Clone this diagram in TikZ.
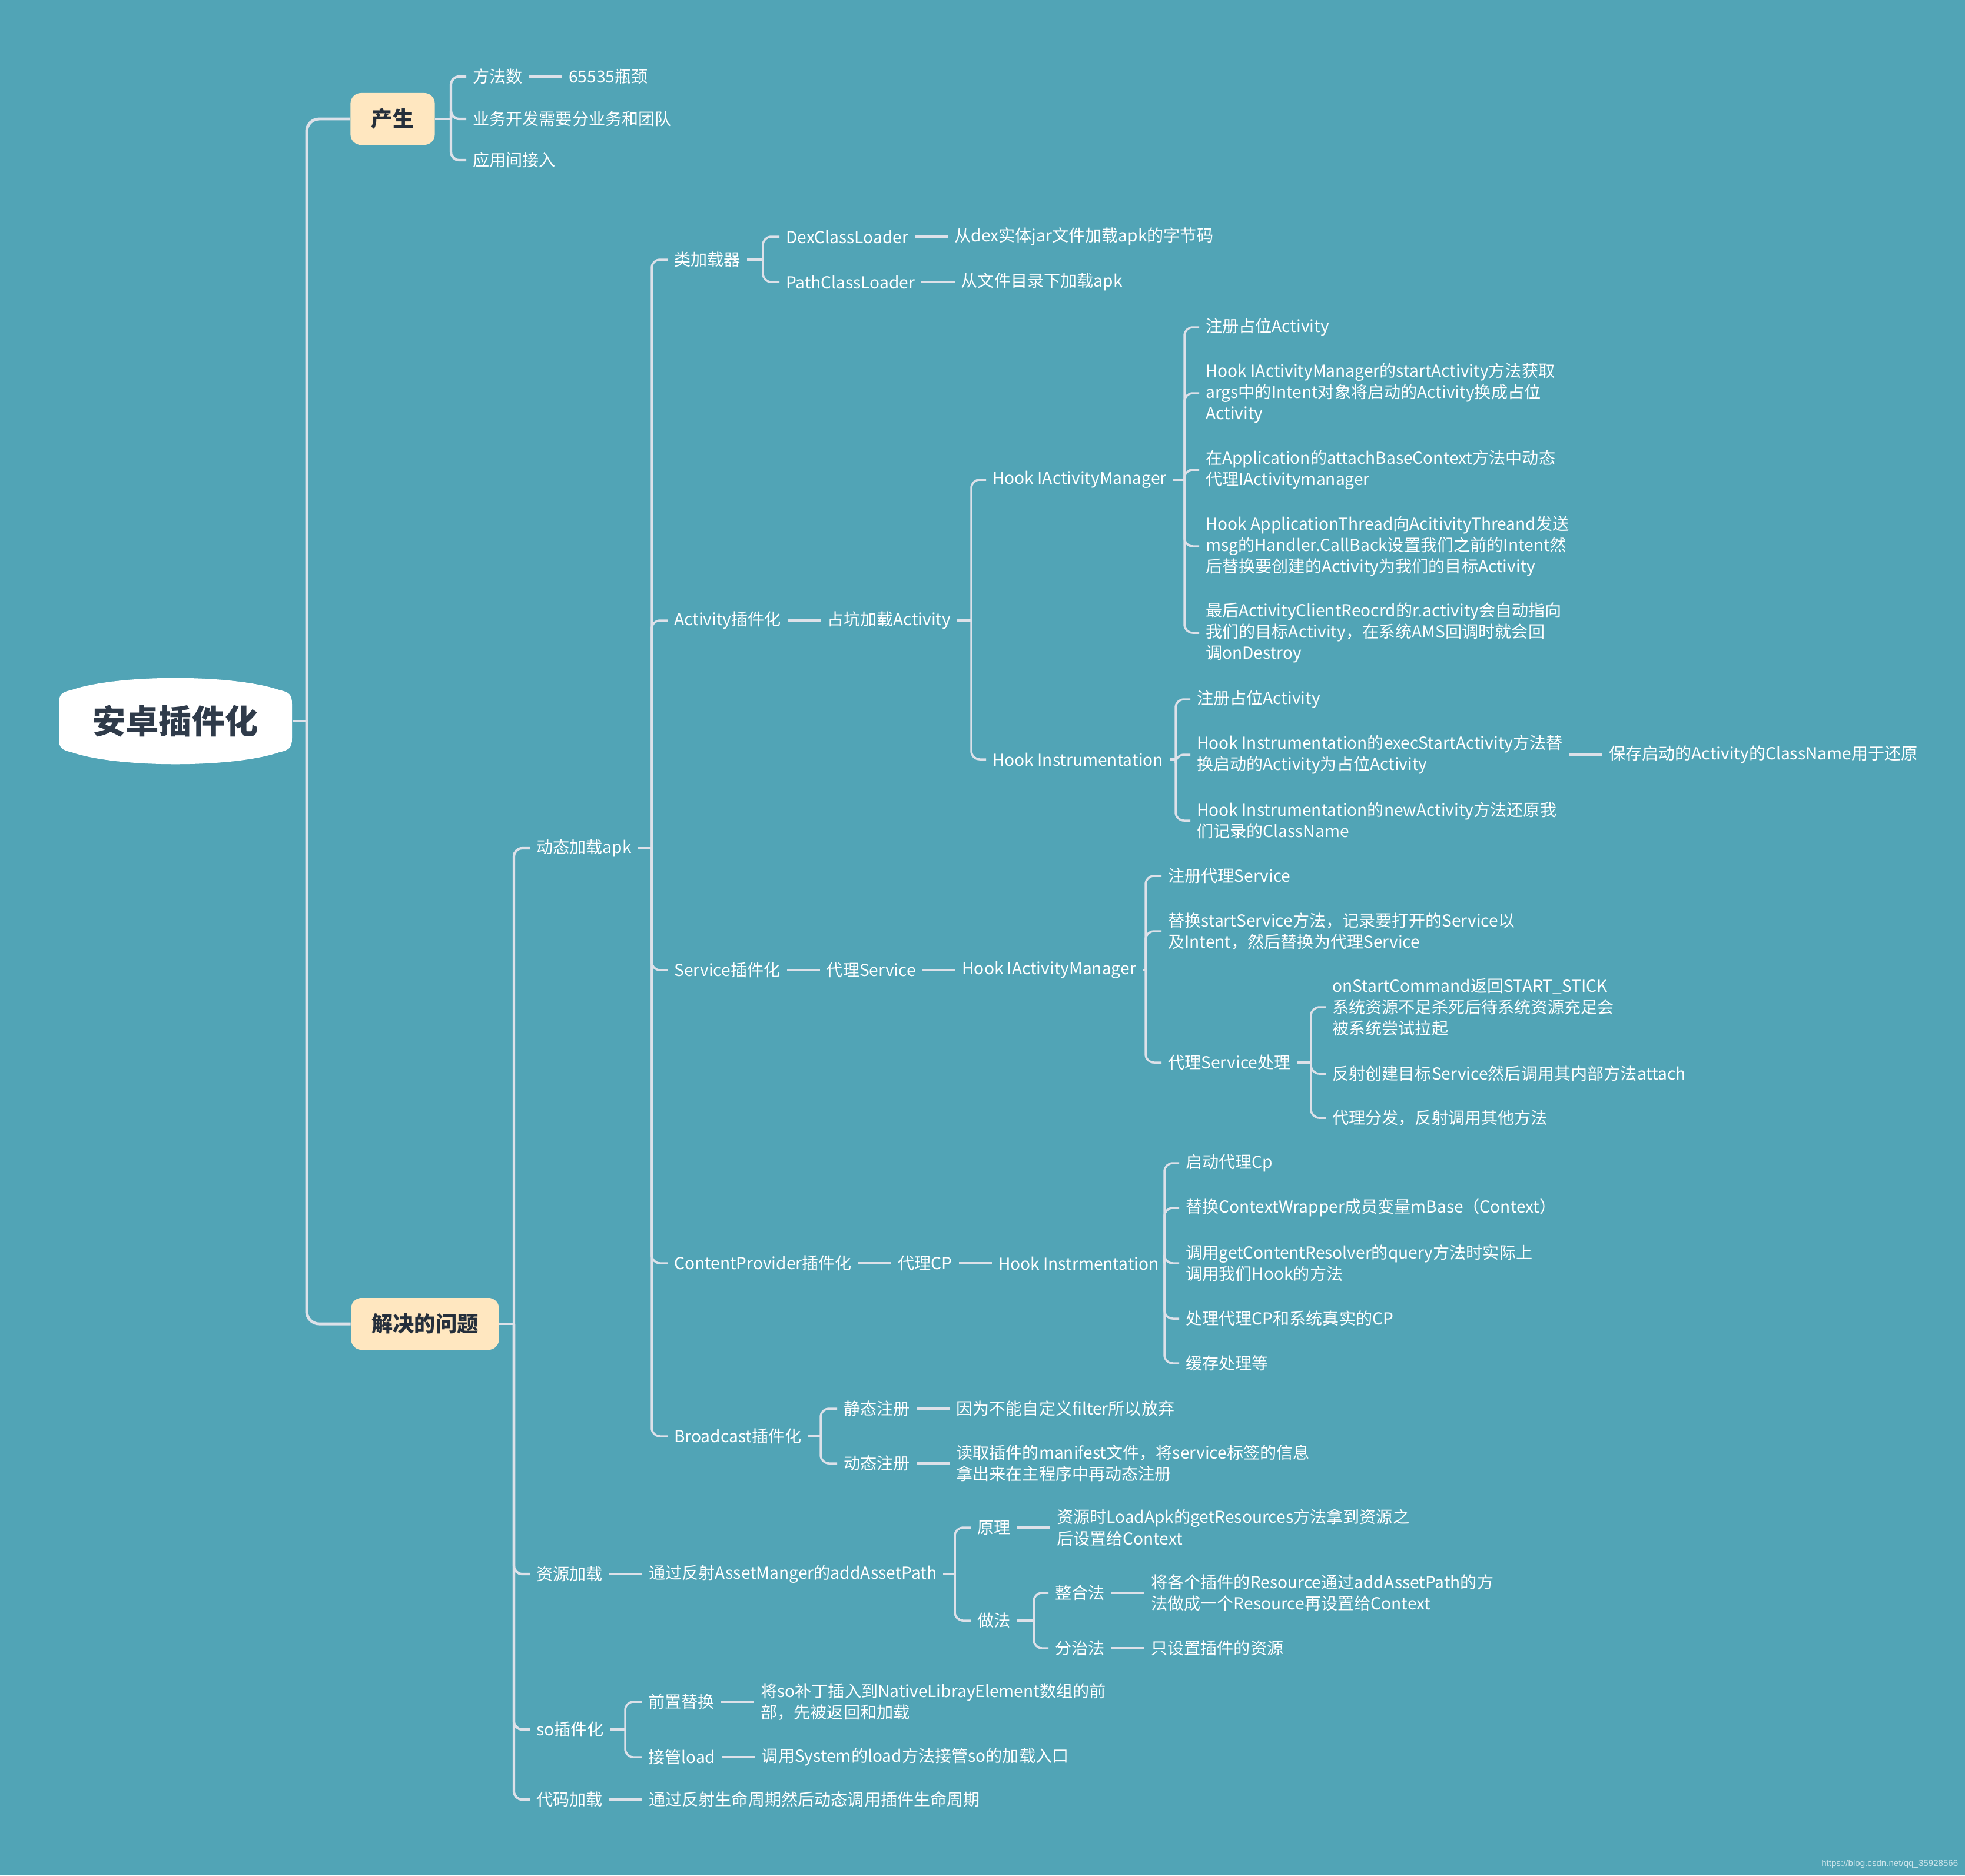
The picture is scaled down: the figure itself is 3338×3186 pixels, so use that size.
\documentclass[tikz,border=0pt]{standalone}
\usepackage{fontspec}
\setmainfont{Noto Sans CJK SC}
\newfontfamily\wmfont{Liberation Sans}
\usetikzlibrary{positioning}
\definecolor{mbg}{HTML}{51A4B6}
\definecolor{mline}{HTML}{DDE1E9}
\definecolor{mbox}{HTML}{FFE7C0}
\definecolor{mdark}{HTML}{2F3B4A}
\tikzset{
  central/.style={text=mdark,font=\fontsize{16}{18}\selectfont\bfseries,minimum width=3.96cm,minimum height=1.02cm},
  topic/.style={fill=mbox,text=mdark!80!black,rounded corners=5pt,font=\fontsize{10.3}{12}\selectfont\bfseries,minimum height=0.88cm,inner xsep=0pt},
  leaf/.style={anchor=west,text=white,font=\fontsize{8}{10.3}\selectfont,align=left,inner xsep=3pt,inner ysep=1pt},
  nxt/.style={leaf,right=0.56cm of #1},
  ln/.style={draw=mline,line width=1pt},
  elb/.style={draw=mline,line width=1pt,rounded corners=4pt},
  trunk/.style={draw=mline,line width=1.4pt,rounded corners=6pt},
}
\begin{document}
\begin{tikzpicture}[x=0.01cm,y=-0.01cm]
  \useasboundingbox (0,0) rectangle (3338,3186);
  \fill[mbg] (0,0) rectangle (3338,3186);
  % central topic
  \fill[white] (100,1196) .. controls (100,1180) and (104,1176) .. (122,1172) .. controls (200,1145) and (396,1145) .. (474,1172) .. controls (492,1176) and (496,1180) .. (496,1196) -- (496,1254) .. controls (496,1270) and (492,1274) .. (474,1278) .. controls (396,1305) and (200,1305) .. (122,1278) .. controls (104,1274) and (100,1270) .. (100,1254) -- cycle;
  \node[central] (root) at (298,1225) {安卓插件化};
  \node[topic,minimum width=1.43cm] (chan) at (667,202) {产生};
  \node[topic,minimum width=2.51cm] (jj) at (722,2249) {解决的问题};
  \coordinate (sp-root) at (521,1225);
  \draw[ln,line width=1.4pt] (root.east) -- (sp-root);
  \foreach \t in {chan,jj} \draw[trunk] (sp-root) |- (\t.west);

  % 产生
  \node[leaf] (fa) at (792,130) {方法数};
  \node[nxt=fa] (fa2) {65535瓶颈};
  \node[leaf] (yw) at (792,202) {业务开发需要分业务和团队};
  \node[leaf] (yy) at (792,272) {应用间接入};
  \coordinate (sp-chan) at (766,202);
  \draw[ln,line width=1.2pt] (chan.east) -- (sp-chan);
  \foreach \t in {fa,yw,yy} \draw[elb,line width=1.2pt] (sp-chan) |- (\t.west);
  \draw[ln] (fa) -- (fa2);

  % 解决的问题
  \node[leaf] (dt) at (900,1441) {动态加载apk};
  \node[leaf] (zy) at (900,2674) {资源加载};
  \node[leaf] (so) at (900,2938) {so插件化};
  \node[leaf] (dm) at (900,3057) {代码加载};
  \coordinate (sp-jj) at (873,2249);
  \draw[ln,line width=1.2pt] (jj.east) -- (sp-jj);
  \foreach \t in {dt,zy,so,dm} \draw[elb,line width=1.2pt] (sp-jj) |- (\t.west);

  % 动态加载apk
  \node[leaf] (lj) at (1134,441) {类加载器};
  \node[leaf] (act) at (1134,1054) {Activity插件化};
  \node[leaf] (svc) at (1134,1648) {Service插件化};
  \node[leaf] (cp) at (1134,2146) {ContentProvider插件化};
  \node[leaf] (bc) at (1134,2440) {Broadcast插件化};
  \coordinate (sp-dt) at (1107,1441);
  \draw[ln] (dt.east) -- (sp-dt);
  \foreach \t in {lj,act,svc,cp,bc} \draw[elb] (sp-dt) |- (\t.west);

  % 类加载器
  \node[leaf] (dex) at (1324,402) {DexClassLoader};
  \node[nxt=dex] (dex2) {从dex实体jar文件加载apk的字节码};
  \node[leaf] (path) at (1324,479) {PathClassLoader};
  \node[nxt=path] (path2) {从文件目录下加载apk};
  \coordinate (sp-lj) at (1296,441);
  \draw[ln] (lj.east) -- (sp-lj);
  \foreach \t in {dex,path} \draw[elb] (sp-lj) |- (\t.west);
  \draw[ln] (dex) -- (dex2);
  \draw[ln] (path) -- (path2);

  % Activity插件化
  \node[nxt=act] (act2) {占坑加载Activity};
  \draw[ln] (act) -- (act2);
  \node[leaf] (him) at (1675,815) {Hook IActivityManager};
  \node[leaf] (hin) at (1675,1290) {Hook Instrumentation};
  \coordinate (sp-act) at (1650,1054);
  \draw[ln] (act2.east) -- (sp-act);
  \foreach \t in {him,hin} \draw[elb] (sp-act) |- (\t.west);

  \node[leaf] (h1) at (2037,556) {注册占位Activity};
  \node[leaf] (h2) at (2037,668) {Hook IActivityManager的startActivity方法获取\\args中的Intent对象将启动的Activity换成占位\\Activity};
  \node[leaf] (h3) at (2037,798) {在Application的attachBaseContext方法中动态\\代理IActivitymanager};
  \node[leaf] (h4) at (2037,928) {Hook ApplicationThread向AcitivityThreand发送\\msg的Handler.CallBack设置我们之前的Intent然\\后替换要创建的Activity为我们的目标Activity};
  \node[leaf] (h5) at (2037,1075) {最后ActivityClientReocrd的r.activity会自动指向\\我们的目标Activity，在系统AMS回调时就会回\\调onDestroy};
  \coordinate (sp-him) at (2012,815);
  \draw[ln] (him.east) -- (sp-him);
  \foreach \t in {h1,h2,h3,h4,h5} \draw[elb] (sp-him) |- (\t.west);

  \node[leaf] (i1) at (2022,1188) {注册占位Activity};
  \node[leaf] (i2) at (2022,1282) {Hook Instrumentation的execStartActivity方法替\\换启动的Activity为占位Activity};
  \node[nxt=i2] (i2b) {保存启动的Activity的ClassName用于还原};
  \node[leaf] (i3) at (2022,1394) {Hook Instrumentation的newActivity方法还原我\\们记录的ClassName};
  \coordinate (sp-hin) at (1997,1290);
  \draw[ln] (hin.east) -- (sp-hin);
  \foreach \t in {i1,i2,i3} \draw[elb] (sp-hin) |- (\t.west);
  \draw[ln] (i2) -- (i2b);

  % Service插件化
  \node[nxt=svc] (svc2) {代理Service};
  \node[nxt=svc2] (svc3) {Hook IActivityManager};
  \draw[ln] (svc) -- (svc2);
  \draw[ln] (svc2) -- (svc3);
  \node[leaf] (sv1) at (1973,1488) {注册代理Service};
  \node[leaf] (sv2) at (1973,1582) {替换startService方法，记录要打开的Service以\\及Intent，然后替换为代理Service};
  \node[leaf] (sv3) at (1973,1805) {代理Service处理};
  \coordinate (sp-svc) at (1946,1648);
  \draw[ln] (svc3.east) -- (sp-svc);
  \foreach \t in {sv1,sv2,sv3} \draw[elb] (sp-svc) |- (\t.west);

  \node[leaf] (t1) at (2252,1711) {onStartCommand返回START\_STICK\\系统资源不足杀死后待系统资源充足会\\被系统尝试拉起};
  \node[leaf] (t2) at (2252,1824) {反射创建目标Service然后调用其内部方法attach};
  \node[leaf] (t3) at (2252,1899) {代理分发，反射调用其他方法};
  \coordinate (sp-sv3) at (2227,1805);
  \draw[ln] (sv3.east) -- (sp-sv3);
  \foreach \t in {t1,t2,t3} \draw[elb] (sp-sv3) |- (\t.west);

  % ContentProvider插件化
  \node[nxt=cp] (cp2) {代理CP};
  \node[nxt=cp2] (cp3) {Hook Instrmentation};
  \draw[ln] (cp) -- (cp2);
  \draw[ln] (cp2) -- (cp3);
  \node[leaf] (c1) at (2003,1976) {启动代理Cp};
  \node[leaf] (c2) at (2003,2052) {替换ContextWrapper成员变量mBase（Context）};
  \node[leaf] (c3) at (2003,2146) {调用getContentResolver的query方法时实际上\\调用我们Hook的方法};
  \node[leaf] (c4) at (2003,2240) {处理代理CP和系统真实的CP};
  \node[leaf] (c5) at (2003,2316) {缓存处理等};
  \coordinate (sp-cp) at (1978,2146);
  \draw[ln] (cp3.east) -- (sp-cp);
  \foreach \t in {c1,c2,c3,c4,c5} \draw[elb] (sp-cp) |- (\t.west);

  % Broadcast插件化
  \node[leaf] (b1) at (1422,2393) {静态注册};
  \node[nxt=b1] (b1b) {因为不能自定义filter所以放弃};
  \node[leaf] (b2) at (1422,2486) {动态注册};
  \node[nxt=b2] (b2b) {读取插件的manifest文件，将service标签的信息\\拿出来在主程序中再动态注册};
  \coordinate (sp-bc) at (1394,2440);
  \draw[ln] (bc.east) -- (sp-bc);
  \foreach \t in {b1,b2} \draw[elb] (sp-bc) |- (\t.west);
  \draw[ln] (b1) -- (b1b);
  \draw[ln] (b2) -- (b2b);

  % 资源加载
  \node[nxt=zy] (zy2) {通过反射AssetManger的addAssetPath};
  \draw[ln] (zy) -- (zy2);
  \node[leaf] (yl) at (1649,2595) {原理};
  \node[nxt=yl] (yl2) {资源时LoadApk的getResources方法拿到资源之\\后设置给Context};
  \node[leaf] (zf) at (1649,2753) {做法};
  \coordinate (sp-zy) at (1622,2674);
  \draw[ln] (zy2.east) -- (sp-zy);
  \foreach \t in {yl,zf} \draw[elb] (sp-zy) |- (\t.west);
  \draw[ln] (yl) -- (yl2);

  \node[leaf] (zh) at (1781,2706) {整合法};
  \node[nxt=zh] (zh2) {将各个插件的Resource通过addAssetPath的方\\法做成一个Resource再设置给Context};
  \node[leaf] (fz) at (1781,2800) {分治法};
  \node[nxt=fz] (fz2) {只设置插件的资源};
  \coordinate (sp-zf) at (1756,2753);
  \draw[ln] (zf.east) -- (sp-zf);
  \foreach \t in {zh,fz} \draw[elb] (sp-zf) |- (\t.west);
  \draw[ln] (zh) -- (zh2);
  \draw[ln] (fz) -- (fz2);

  % so插件化
  \node[leaf] (qz) at (1090,2891) {前置替换};
  \node[nxt=qz] (qz2) {将so补丁插入到NativeLibrayElement数组的前\\部，先被返回和加载};
  \node[leaf] (jg) at (1090,2985) {接管load};
  \node[nxt=jg] (jg2) {调用System的load方法接管so的加载入口};
  \coordinate (sp-so) at (1062,2938);
  \draw[ln] (so.east) -- (sp-so);
  \foreach \t in {qz,jg} \draw[elb] (sp-so) |- (\t.west);
  \draw[ln] (qz) -- (qz2);
  \draw[ln] (jg) -- (jg2);

  % 代码加载
  \node[nxt=dm] (dm2) {通过反射生命周期然后动态调用插件生命周期};
  \draw[ln] (dm) -- (dm2);

  \node[anchor=east,inner sep=0pt,text=white!72!mbg,font=\wmfont\fontsize{4.3}{5}\selectfont] (wm) at (3327,3167) {https://blog.csdn.net/qq\_35928566};
\end{tikzpicture}
\end{document}
